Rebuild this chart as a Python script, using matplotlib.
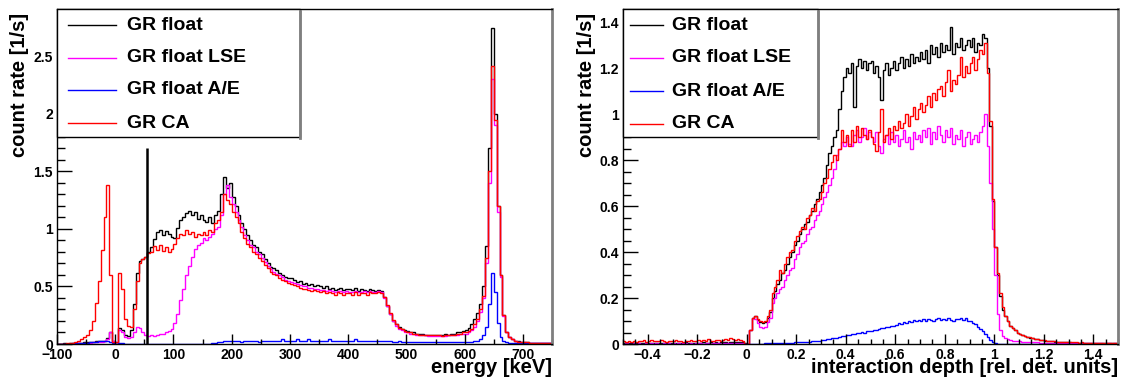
import numpy as np
import matplotlib
matplotlib.use("Agg")
import matplotlib.pyplot as plt
from matplotlib.patches import Rectangle
from matplotlib.lines import Line2D
from matplotlib.ticker import MultipleLocator, FuncFormatter

plt.rcParams['font.family'] = ['Liberation Sans', 'DejaVu Sans']
plt.rcParams['font.weight'] = 'bold'

# ---------------- data ----------------
series_names = ["GR float", "GR float LSE", "GR float A/E", "GR CA"]
series_colors = ["#000000", "#ff00ff", "#0000ff", "#ff0000"]

# energy spectrum, 5 keV bins from -100 to 750 keV
energy_edges = np.arange(-100, 755, 5)
energy_black = [
    0.00, 0.00, 0.01, 0.00, 0.01, 0.01, 0.01, 0.01, 0.01, 0.02,
    0.02, 0.02, 0.02, 0.03, 0.03, 0.03, 0.03, 0.05, 0.10, 0.03,
    0.00, 0.14, 0.12, 0.08, 0.07, 0.12, 0.35, 0.62, 0.72, 0.74,
    0.76, 0.80, 0.84, 0.91, 0.97, 0.99, 0.95, 0.98, 0.96, 0.93,
    0.92, 1.01, 1.08, 1.10, 1.14, 1.16, 1.12, 1.15, 1.09, 1.12,
    1.08, 1.06, 1.10, 1.05, 1.12, 1.16, 1.30, 1.45, 1.36, 1.40,
    1.28, 1.20, 1.12, 1.05, 1.00, 0.95, 0.90, 0.86, 0.84, 0.80,
    0.78, 0.74, 0.70, 0.67, 0.66, 0.64, 0.62, 0.60, 0.58, 0.57,
    0.57, 0.56, 0.54, 0.55, 0.52, 0.53, 0.51, 0.52, 0.50, 0.51,
    0.50, 0.49, 0.50, 0.48, 0.49, 0.47, 0.48, 0.49, 0.47, 0.48,
    0.48, 0.47, 0.49, 0.46, 0.48, 0.47, 0.46, 0.48, 0.47, 0.46,
    0.47, 0.46, 0.41, 0.33, 0.26, 0.20, 0.17, 0.15, 0.13, 0.12,
    0.11, 0.10, 0.10, 0.09, 0.09, 0.09, 0.08, 0.08, 0.08, 0.08,
    0.08, 0.08, 0.08, 0.09, 0.08, 0.09, 0.09, 0.10, 0.10, 0.11,
    0.12, 0.14, 0.17, 0.22, 0.27, 0.35, 0.50, 0.85, 1.70, 2.75,
    2.00, 1.20, 0.60, 0.25, 0.10, 0.06, 0.04, 0.03, 0.03, 0.02,
    0.02, 0.02, 0.01, 0.01, 0.01, 0.01, 0.01, 0.01, 0.01, 0.01,
]
energy_magenta = [
    0.00, 0.00, 0.00, 0.00, 0.00, 0.00, 0.00, 0.01, 0.00, 0.01,
    0.01, 0.01, 0.02, 0.02, 0.02, 0.02, 0.03, 0.04, 0.10, 0.03,
    0.00, 0.12, 0.10, 0.06, 0.05, 0.06, 0.10, 0.15, 0.14, 0.10,
    0.08, 0.07, 0.08, 0.07, 0.08, 0.09, 0.09, 0.10, 0.11, 0.13,
    0.18, 0.26, 0.38, 0.48, 0.60, 0.68, 0.76, 0.83, 0.86, 0.88,
    0.92, 0.90, 0.93, 0.96, 1.00, 1.02, 1.12, 1.30, 1.38, 1.28,
    1.22, 1.15, 1.08, 1.02, 0.95, 0.90, 0.86, 0.84, 0.80, 0.78,
    0.75, 0.71, 0.68, 0.65, 0.63, 0.61, 0.60, 0.58, 0.56, 0.55,
    0.54, 0.53, 0.52, 0.51, 0.50, 0.50, 0.49, 0.49, 0.48, 0.48,
    0.47, 0.47, 0.46, 0.47, 0.46, 0.45, 0.46, 0.46, 0.45, 0.46,
    0.45, 0.45, 0.46, 0.45, 0.45, 0.46, 0.45, 0.46, 0.45, 0.45,
    0.46, 0.45, 0.40, 0.33, 0.26, 0.20, 0.16, 0.13, 0.12, 0.10,
    0.10, 0.09, 0.09, 0.08, 0.08, 0.08, 0.08, 0.07, 0.07, 0.07,
    0.07, 0.07, 0.07, 0.07, 0.08, 0.08, 0.08, 0.08, 0.09, 0.09,
    0.09, 0.10, 0.12, 0.15, 0.20, 0.28, 0.40, 0.70, 1.40, 2.30,
    1.90, 1.15, 0.58, 0.24, 0.10, 0.06, 0.04, 0.03, 0.02, 0.02,
    0.02, 0.01, 0.01, 0.01, 0.01, 0.01, 0.01, 0.01, 0.01, 0.01,
]
energy_blue = [
    0.00, 0.00, 0.00, 0.00, 0.00, 0.01, 0.01, 0.01, 0.01, 0.01,
    0.01, 0.02, 0.02, 0.02, 0.03, 0.03, 0.03, 0.03, 0.02, 0.01,
    0.00, 0.01, 0.01, 0.00, 0.00, 0.00, 0.00, 0.00, 0.00, 0.00,
    0.00, 0.00, 0.00, 0.00, 0.00, 0.00, 0.00, 0.00, 0.00, 0.00,
    0.00, 0.00, 0.00, 0.00, 0.00, 0.00, 0.00, 0.00, 0.00, 0.00,
    0.00, 0.00, 0.00, 0.01, 0.01, 0.02, 0.02, 0.03, 0.03, 0.03,
    0.03, 0.03, 0.03, 0.02, 0.03, 0.03, 0.03, 0.03, 0.03, 0.02,
    0.03, 0.03, 0.03, 0.03, 0.03, 0.03, 0.03, 0.04, 0.03, 0.03,
    0.03, 0.03, 0.04, 0.03, 0.03, 0.03, 0.04, 0.03, 0.03, 0.03,
    0.03, 0.03, 0.03, 0.04, 0.03, 0.03, 0.03, 0.03, 0.03, 0.03,
    0.03, 0.03, 0.04, 0.03, 0.03, 0.03, 0.03, 0.03, 0.03, 0.03,
    0.03, 0.03, 0.03, 0.03, 0.03, 0.02, 0.02, 0.03, 0.02, 0.02,
    0.02, 0.02, 0.02, 0.02, 0.02, 0.02, 0.02, 0.02, 0.02, 0.02,
    0.02, 0.02, 0.02, 0.02, 0.02, 0.02, 0.02, 0.02, 0.02, 0.02,
    0.02, 0.02, 0.02, 0.03, 0.03, 0.04, 0.08, 0.15, 0.35, 0.62,
    0.45, 0.18, 0.06, 0.03, 0.02, 0.01, 0.01, 0.01, 0.01, 0.01,
    0.01, 0.01, 0.01, 0.01, 0.01, 0.01, 0.01, 0.01, 0.01, 0.01,
]
energy_red = [
    0.00, 0.00, 0.00, 0.01, 0.01, 0.01, 0.02, 0.03, 0.04, 0.06,
    0.08, 0.12, 0.20, 0.36, 0.55, 0.82, 1.10, 1.38, 0.60, 0.02,
    0.02, 0.62, 0.48, 0.22, 0.16, 0.15, 0.30, 0.55, 0.70, 0.74,
    0.76, 0.79, 0.80, 0.85, 0.82, 0.86, 0.81, 0.84, 0.80, 0.83,
    0.87, 0.92, 0.96, 0.95, 0.99, 0.96, 0.97, 0.93, 0.96, 0.95,
    0.97, 0.95, 0.99, 0.97, 1.05, 1.08, 1.15, 1.30, 1.25, 1.22,
    1.15, 1.10, 1.05, 0.97, 0.92, 0.87, 0.84, 0.80, 0.78, 0.75,
    0.72, 0.69, 0.66, 0.63, 0.61, 0.60, 0.57, 0.56, 0.55, 0.53,
    0.52, 0.51, 0.50, 0.49, 0.48, 0.48, 0.47, 0.46, 0.47, 0.46,
    0.45, 0.46, 0.44, 0.45, 0.44, 0.43, 0.45, 0.44, 0.43, 0.44,
    0.44, 0.43, 0.45, 0.43, 0.44, 0.44, 0.43, 0.45, 0.44, 0.44,
    0.45, 0.44, 0.41, 0.34, 0.27, 0.21, 0.17, 0.14, 0.13, 0.11,
    0.10, 0.10, 0.09, 0.09, 0.08, 0.08, 0.08, 0.08, 0.08, 0.08,
    0.08, 0.08, 0.07, 0.08, 0.08, 0.08, 0.08, 0.09, 0.09, 0.10,
    0.10, 0.11, 0.13, 0.17, 0.22, 0.30, 0.42, 0.75, 1.50, 2.42,
    1.95, 1.20, 0.60, 0.25, 0.10, 0.06, 0.04, 0.03, 0.02, 0.02,
    0.02, 0.02, 0.01, 0.01, 0.01, 0.01, 0.01, 0.01, 0.01, 0.01,
]
cut_energy = 55
cut_height = 1.70

# interaction depth, 0.01 bins from -0.5 to 1.5
depth_edges = np.round(np.arange(-0.5, 1.505, 0.01), 2)
depth_black = [
    0.005, 0.004, 0.006, 0.003, 0.005, 0.004, 0.006, 0.005, 0.004, 0.005,
    0.004, 0.006, 0.005, 0.004, 0.005, 0.006, 0.004, 0.005, 0.006, 0.005,
    0.005, 0.006, 0.004, 0.006, 0.005, 0.007, 0.005, 0.006, 0.005, 0.006,
    0.006, 0.005, 0.007, 0.006, 0.005, 0.007, 0.006, 0.007, 0.006, 0.007,
    0.007, 0.008, 0.006, 0.008, 0.009, 0.008, 0.010, 0.009, 0.008, 0.004,
    0.000, 0.060, 0.115, 0.120, 0.105, 0.095, 0.090, 0.095, 0.115, 0.140,
    0.20, 0.23, 0.26, 0.28, 0.31, 0.32, 0.35, 0.38, 0.40, 0.43,
    0.45, 0.48, 0.50, 0.52, 0.53, 0.56, 0.58, 0.61, 0.63, 0.66,
    0.69, 0.72, 0.78, 0.83, 0.86, 0.90, 0.93, 1.02, 1.10, 1.16,
    1.20, 1.18, 1.22, 1.03, 1.21, 1.24, 1.20, 1.23, 1.19, 1.22,
    1.23, 1.18, 1.21, 1.16, 1.06, 1.19, 1.22, 1.17, 1.20, 1.23,
    1.19, 1.22, 1.25, 1.20, 1.24, 1.21, 1.26, 1.22, 1.25, 1.23,
    1.27, 1.24, 1.28, 1.22, 1.30, 1.26, 1.29, 1.25, 1.31, 1.27,
    1.30, 1.28, 1.38, 1.26, 1.31, 1.29, 1.33, 1.28, 1.30, 1.32,
    1.29, 1.33, 1.27, 1.31, 1.30, 1.35, 1.33, 1.20, 0.95, 0.62,
    0.42, 0.30, 0.21, 0.15, 0.12, 0.10, 0.08, 0.07, 0.06, 0.05,
    0.045, 0.040, 0.035, 0.030, 0.028, 0.025, 0.022, 0.020, 0.018, 0.016,
    0.015, 0.013, 0.012, 0.011, 0.010, 0.009, 0.009, 0.008, 0.008, 0.007,
    0.007, 0.006, 0.006, 0.006, 0.005, 0.006, 0.005, 0.005, 0.005, 0.005,
    0.005, 0.004, 0.005, 0.004, 0.005, 0.004, 0.004, 0.005, 0.004, 0.004,
]
depth_magenta = [
    0.002, 0.003, 0.002, 0.002, 0.003, 0.002, 0.003, 0.002, 0.002, 0.003,
    0.002, 0.003, 0.002, 0.003, 0.002, 0.002, 0.003, 0.002, 0.003, 0.002,
    0.003, 0.002, 0.003, 0.002, 0.003, 0.003, 0.002, 0.003, 0.002, 0.003,
    0.003, 0.003, 0.002, 0.003, 0.003, 0.002, 0.003, 0.003, 0.003, 0.002,
    0.003, 0.003, 0.004, 0.003, 0.003, 0.004, 0.003, 0.004, 0.003, 0.002,
    0.000, 0.060, 0.115, 0.110, 0.090, 0.072, 0.068, 0.075, 0.095, 0.115,
    0.18, 0.20, 0.22, 0.24, 0.25, 0.28, 0.30, 0.32, 0.33, 0.37,
    0.39, 0.42, 0.44, 0.45, 0.48, 0.50, 0.51, 0.54, 0.56, 0.58,
    0.61, 0.64, 0.66, 0.69, 0.72, 0.76, 0.82, 0.85, 0.88, 0.86,
    0.90, 0.87, 0.86, 0.91, 0.93, 0.88, 0.90, 0.94, 0.89, 0.92,
    0.90, 0.88, 0.92, 0.86, 0.83, 0.89, 0.91, 0.87, 0.92, 0.88,
    0.91, 0.86, 0.89, 0.93, 0.88, 0.90, 0.85, 0.92, 0.89, 0.91,
    0.88, 0.93, 0.90, 0.94, 0.87, 0.92, 0.89, 0.95, 0.91, 0.88,
    0.93, 0.90, 0.94, 0.87, 0.91, 0.89, 0.93, 0.86, 0.90, 0.92,
    0.87, 0.89, 0.91, 0.88, 0.92, 0.95, 1.00, 0.86, 0.70, 0.50,
    0.30, 0.13, 0.06, 0.035, 0.025, 0.020, 0.018, 0.015, 0.013, 0.012,
    0.011, 0.010, 0.009, 0.009, 0.008, 0.008, 0.007, 0.007, 0.006, 0.006,
    0.006, 0.005, 0.005, 0.005, 0.005, 0.004, 0.004, 0.004, 0.004, 0.004,
    0.004, 0.004, 0.003, 0.004, 0.003, 0.003, 0.004, 0.003, 0.003, 0.003,
    0.003, 0.003, 0.003, 0.003, 0.002, 0.003, 0.003, 0.002, 0.003, 0.002,
]
depth_blue = [
    0.002, 0.001, 0.002, 0.002, 0.001, 0.002, 0.002, 0.001, 0.002, 0.002,
    0.001, 0.002, 0.002, 0.001, 0.002, 0.002, 0.001, 0.002, 0.002, 0.001,
    0.002, 0.002, 0.001, 0.002, 0.002, 0.001, 0.002, 0.002, 0.001, 0.002,
    0.002, 0.001, 0.002, 0.002, 0.001, 0.002, 0.002, 0.001, 0.002, 0.002,
    0.001, 0.002, 0.002, 0.001, 0.002, 0.002, 0.001, 0.002, 0.002, 0.001,
    0.001, 0.002, 0.002, 0.002, 0.002, 0.002, 0.002, 0.003, 0.003, 0.003,
    0.003, 0.004, 0.004, 0.005, 0.004, 0.005, 0.006, 0.005, 0.006, 0.007,
    0.007, 0.008, 0.008, 0.009, 0.010, 0.010, 0.012, 0.013, 0.012, 0.015,
    0.016, 0.018, 0.020, 0.021, 0.024, 0.026, 0.028, 0.032, 0.033, 0.036,
    0.038, 0.041, 0.043, 0.042, 0.047, 0.050, 0.052, 0.049, 0.055, 0.056,
    0.058, 0.062, 0.060, 0.066, 0.070, 0.068, 0.075, 0.072, 0.080, 0.078,
    0.084, 0.090, 0.086, 0.095, 0.092, 0.100, 0.097, 0.104, 0.098, 0.106,
    0.102, 0.108, 0.100, 0.110, 0.104, 0.098, 0.107, 0.112, 0.103, 0.109,
    0.105, 0.112, 0.106, 0.100, 0.110, 0.108, 0.115, 0.104, 0.111, 0.102,
    0.098, 0.092, 0.085, 0.076, 0.066, 0.055, 0.042, 0.030, 0.018, 0.008,
    0.003, 0.002, 0.002, 0.002, 0.002, 0.001, 0.002, 0.002, 0.001, 0.002,
    0.002, 0.001, 0.002, 0.002, 0.001, 0.002, 0.002, 0.001, 0.002, 0.002,
    0.001, 0.002, 0.002, 0.001, 0.002, 0.002, 0.001, 0.002, 0.002, 0.001,
    0.002, 0.002, 0.001, 0.002, 0.002, 0.001, 0.002, 0.002, 0.001, 0.002,
    0.002, 0.001, 0.002, 0.002, 0.001, 0.002, 0.002, 0.001, 0.002, 0.002,
]
depth_red = [
    0.012, 0.008, 0.015, 0.010, 0.013, 0.009, 0.014, 0.011, 0.016, 0.010,
    0.013, 0.017, 0.011, 0.015, 0.012, 0.018, 0.014, 0.010, 0.015, 0.013,
    0.011, 0.016, 0.012, 0.014, 0.010, 0.015, 0.013, 0.017, 0.012, 0.014,
    0.016, 0.012, 0.018, 0.014, 0.020, 0.015, 0.013, 0.019, 0.016, 0.014,
    0.018, 0.022, 0.016, 0.025, 0.020, 0.018, 0.023, 0.019, 0.015, 0.002,
    0.000, 0.060, 0.115, 0.120, 0.110, 0.098, 0.095, 0.100, 0.120, 0.150,
    0.22, 0.25, 0.28, 0.32, 0.31, 0.35, 0.38, 0.40, 0.41, 0.45,
    0.47, 0.49, 0.51, 0.50, 0.55, 0.56, 0.59, 0.58, 0.62, 0.63,
    0.66, 0.70, 0.72, 0.76, 0.79, 0.82, 0.80, 0.85, 0.93, 0.88,
    0.91, 0.86, 0.93, 0.88, 0.95, 0.90, 0.94, 0.91, 0.89, 0.93,
    0.90, 0.87, 0.84, 0.92, 1.02, 0.88, 0.91, 0.94, 0.89, 0.95,
    0.93, 0.97, 0.94, 0.96, 1.00, 0.95, 0.99, 1.03, 0.98, 1.02,
    1.05, 1.01, 1.04, 1.08, 1.03, 1.09, 1.06, 1.11, 1.12, 1.08,
    1.14, 1.19, 1.10, 1.15, 1.13, 1.17, 1.25, 1.16, 1.21, 1.18,
    1.22, 1.25, 1.19, 1.24, 1.28, 1.26, 1.31, 1.18, 0.97, 0.63,
    0.42, 0.31, 0.22, 0.16, 0.12, 0.10, 0.08, 0.07, 0.06, 0.05,
    0.045, 0.041, 0.036, 0.031, 0.029, 0.026, 0.023, 0.021, 0.019, 0.017,
    0.016, 0.014, 0.013, 0.012, 0.011, 0.010, 0.010, 0.009, 0.009, 0.008,
    0.008, 0.007, 0.007, 0.007, 0.006, 0.007, 0.006, 0.006, 0.006, 0.006,
    0.006, 0.005, 0.006, 0.005, 0.006, 0.005, 0.005, 0.006, 0.005, 0.005,
]

# ---------------- figure ----------------
W, H = 1126, 380
fig = plt.figure(figsize=(W / 100, H / 100), dpi=100)
fig.patch.set_facecolor("white")


def px_rect(x0, y0, x1, y1):
    return [x0 / W, 1 - y1 / H, (x1 - x0) / W, (y1 - y0) / H]


def fmt(v, pos):
    v = round(v, 6)
    if v == 0:
        return "0"
    return ("%g" % v).replace("-", "\u2212")


def style_axes(ax, xmaj, xmin, ymaj, ymin):
    ax.xaxis.set_major_locator(MultipleLocator(xmaj))
    ax.xaxis.set_minor_locator(MultipleLocator(xmin))
    ax.yaxis.set_major_locator(MultipleLocator(ymaj))
    ax.yaxis.set_minor_locator(MultipleLocator(ymin))
    ax.xaxis.set_major_formatter(FuncFormatter(fmt))
    ax.yaxis.set_major_formatter(FuncFormatter(fmt))
    ax.tick_params(axis="x", which="major", direction="in", length=7.2, width=1.0,
                   labelsize=10, pad=3, top=False)
    ax.tick_params(axis="x", which="minor", direction="in", length=3.6, width=1.0, top=False)
    ax.tick_params(axis="y", which="major", direction="in", length=10.8, width=1.0,
                   labelsize=10, pad=3, right=False)
    ax.tick_params(axis="y", which="minor", direction="in", length=5.4, width=1.0, right=False)
    for lab in ax.get_xticklabels() + ax.get_yticklabels():
        lab.set_fontweight("bold")
    ax.spines["top"].set_linewidth(1.0)
    ax.spines["left"].set_linewidth(1.0)
    ax.spines["bottom"].set_linewidth(1.0)
    ax.spines["right"].set_color("#7f7f7f")
    ax.spines["right"].set_linewidth(2.0)


def draw_legend(x0, y0, x1, y1, line_x0, line_x1, text_x, rows):
    rect = Rectangle((x0 / W, 1 - y1 / H), (x1 - x0) / W, (y1 - y0) / H,
                     transform=fig.transFigure, facecolor="white",
                     edgecolor="black", linewidth=1.0, zorder=10)
    fig.add_artist(rect)
    fig.add_artist(Line2D([x1 / W, x1 / W], [1 - (y0 + 2) / H, 1 - (y1 + 1) / H],
                          transform=fig.transFigure, color="#7f7f7f", lw=2.0, zorder=11))
    for name, col, yr in zip(series_names, series_colors, rows):
        fig.add_artist(Line2D([line_x0 / W, line_x1 / W], [1 - yr / H, 1 - yr / H],
                              transform=fig.transFigure, color=col, lw=1.0, zorder=12))
        fig.text(text_x / W, 1 - yr / H, name, fontsize=14, fontweight="bold",
                 ha="left", va="center", zorder=12)


# ---- left panel: energy ----
ax1 = fig.add_axes(px_rect(57, 9, 552, 344))
for vals, col in zip([energy_black, energy_magenta, energy_blue, energy_red], series_colors):
    ax1.stairs(vals, energy_edges, color=col, lw=1.0, baseline=None)
ax1.vlines(cut_energy, 0, cut_height, color="black", lw=1.8)
ax1.set_xlim(-100, 750)
ax1.set_ylim(0, 2.913)
style_axes(ax1, 100, 50, 0.5, 0.1)

fig.text(20 / W, 1 - 13 / H, "count rate [1/s]", rotation=90, fontsize=14.5,
         fontweight="bold", ha="center", va="top")
fig.text(552 / W, 1 - 373 / H, "energy [keV]", fontsize=14.5,
         fontweight="bold", ha="right", va="baseline")
draw_legend(57, 9, 300, 137, 68, 116, 127, [25, 58, 90, 123])

# ---- right panel: depth ----
ax2 = fig.add_axes(px_rect(623, 9, 1118, 344))
for vals, col in zip([depth_black, depth_magenta, depth_blue, depth_red], series_colors):
    ax2.stairs(vals, depth_edges, color=col, lw=1.0, baseline=None)
ax2.set_xlim(-0.5, 1.5)
ax2.set_ylim(0, 1.457)
style_axes(ax2, 0.2, 0.05, 0.2, 0.05)

fig.text(587 / W, 1 - 13 / H, "count rate [1/s]", rotation=90, fontsize=14.5,
         fontweight="bold", ha="center", va="top")
fig.text(1118 / W, 1 - 373 / H, "interaction depth [rel. det. units]", fontsize=14.5,
         fontweight="bold", ha="right", va="baseline")
draw_legend(623, 9, 818, 137, 630, 663, 672, [25, 58, 91, 124])

fig.savefig("out.png", dpi=100, facecolor="white")
